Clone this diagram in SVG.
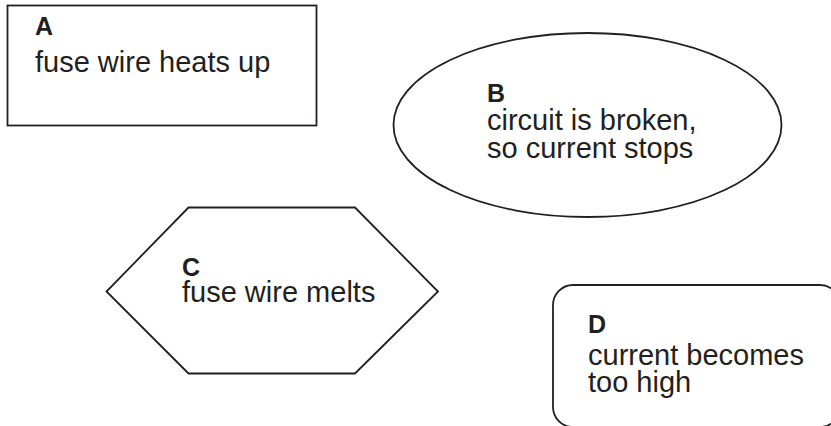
<svg xmlns="http://www.w3.org/2000/svg" width="831" height="426" viewBox="0 0 831 426">
<style>
.s{fill:#fff;stroke:#231f20;stroke-width:1.8}
.t{font-family:"Liberation Sans",Arial,sans-serif;font-size:29px;fill:#231f20}
.b{font-family:"Liberation Sans",Arial,sans-serif;font-size:25px;font-weight:bold;fill:#231f20}
</style>
<rect width="831" height="426" fill="#fff"/>
<g id="connectors"></g>
<g id="A">
<rect class="s" x="7.5" y="5.5" width="309" height="120"/>
<text class="b" x="35" y="35">A</text>
<text class="t" x="35" y="72">fuse wire heats up</text>
</g>
<g id="B">
<ellipse class="s" cx="587.5" cy="125" rx="194" ry="92"/>
<text class="b" x="487" y="101.5">B</text>
<text class="t" x="487" y="129.5">circuit is broken,</text>
<text class="t" x="487" y="158">so current stops</text>
</g>
<g id="C">
<polygon class="s" points="188.5,207.5 355,207.5 438,291.5 355,373.5 188.5,373.5 106.5,291.5"/>
<text class="b" x="182" y="276">C</text>
<text class="t" x="182" y="302">fuse wire melts</text>
</g>
<g id="D">
<rect class="s" x="553" y="285" width="287" height="142" rx="20"/>
<text class="b" x="588" y="333">D</text>
<text class="t" x="588" y="365">current becomes</text>
<text class="t" x="588" y="392">too high</text>
</g>
</svg>
